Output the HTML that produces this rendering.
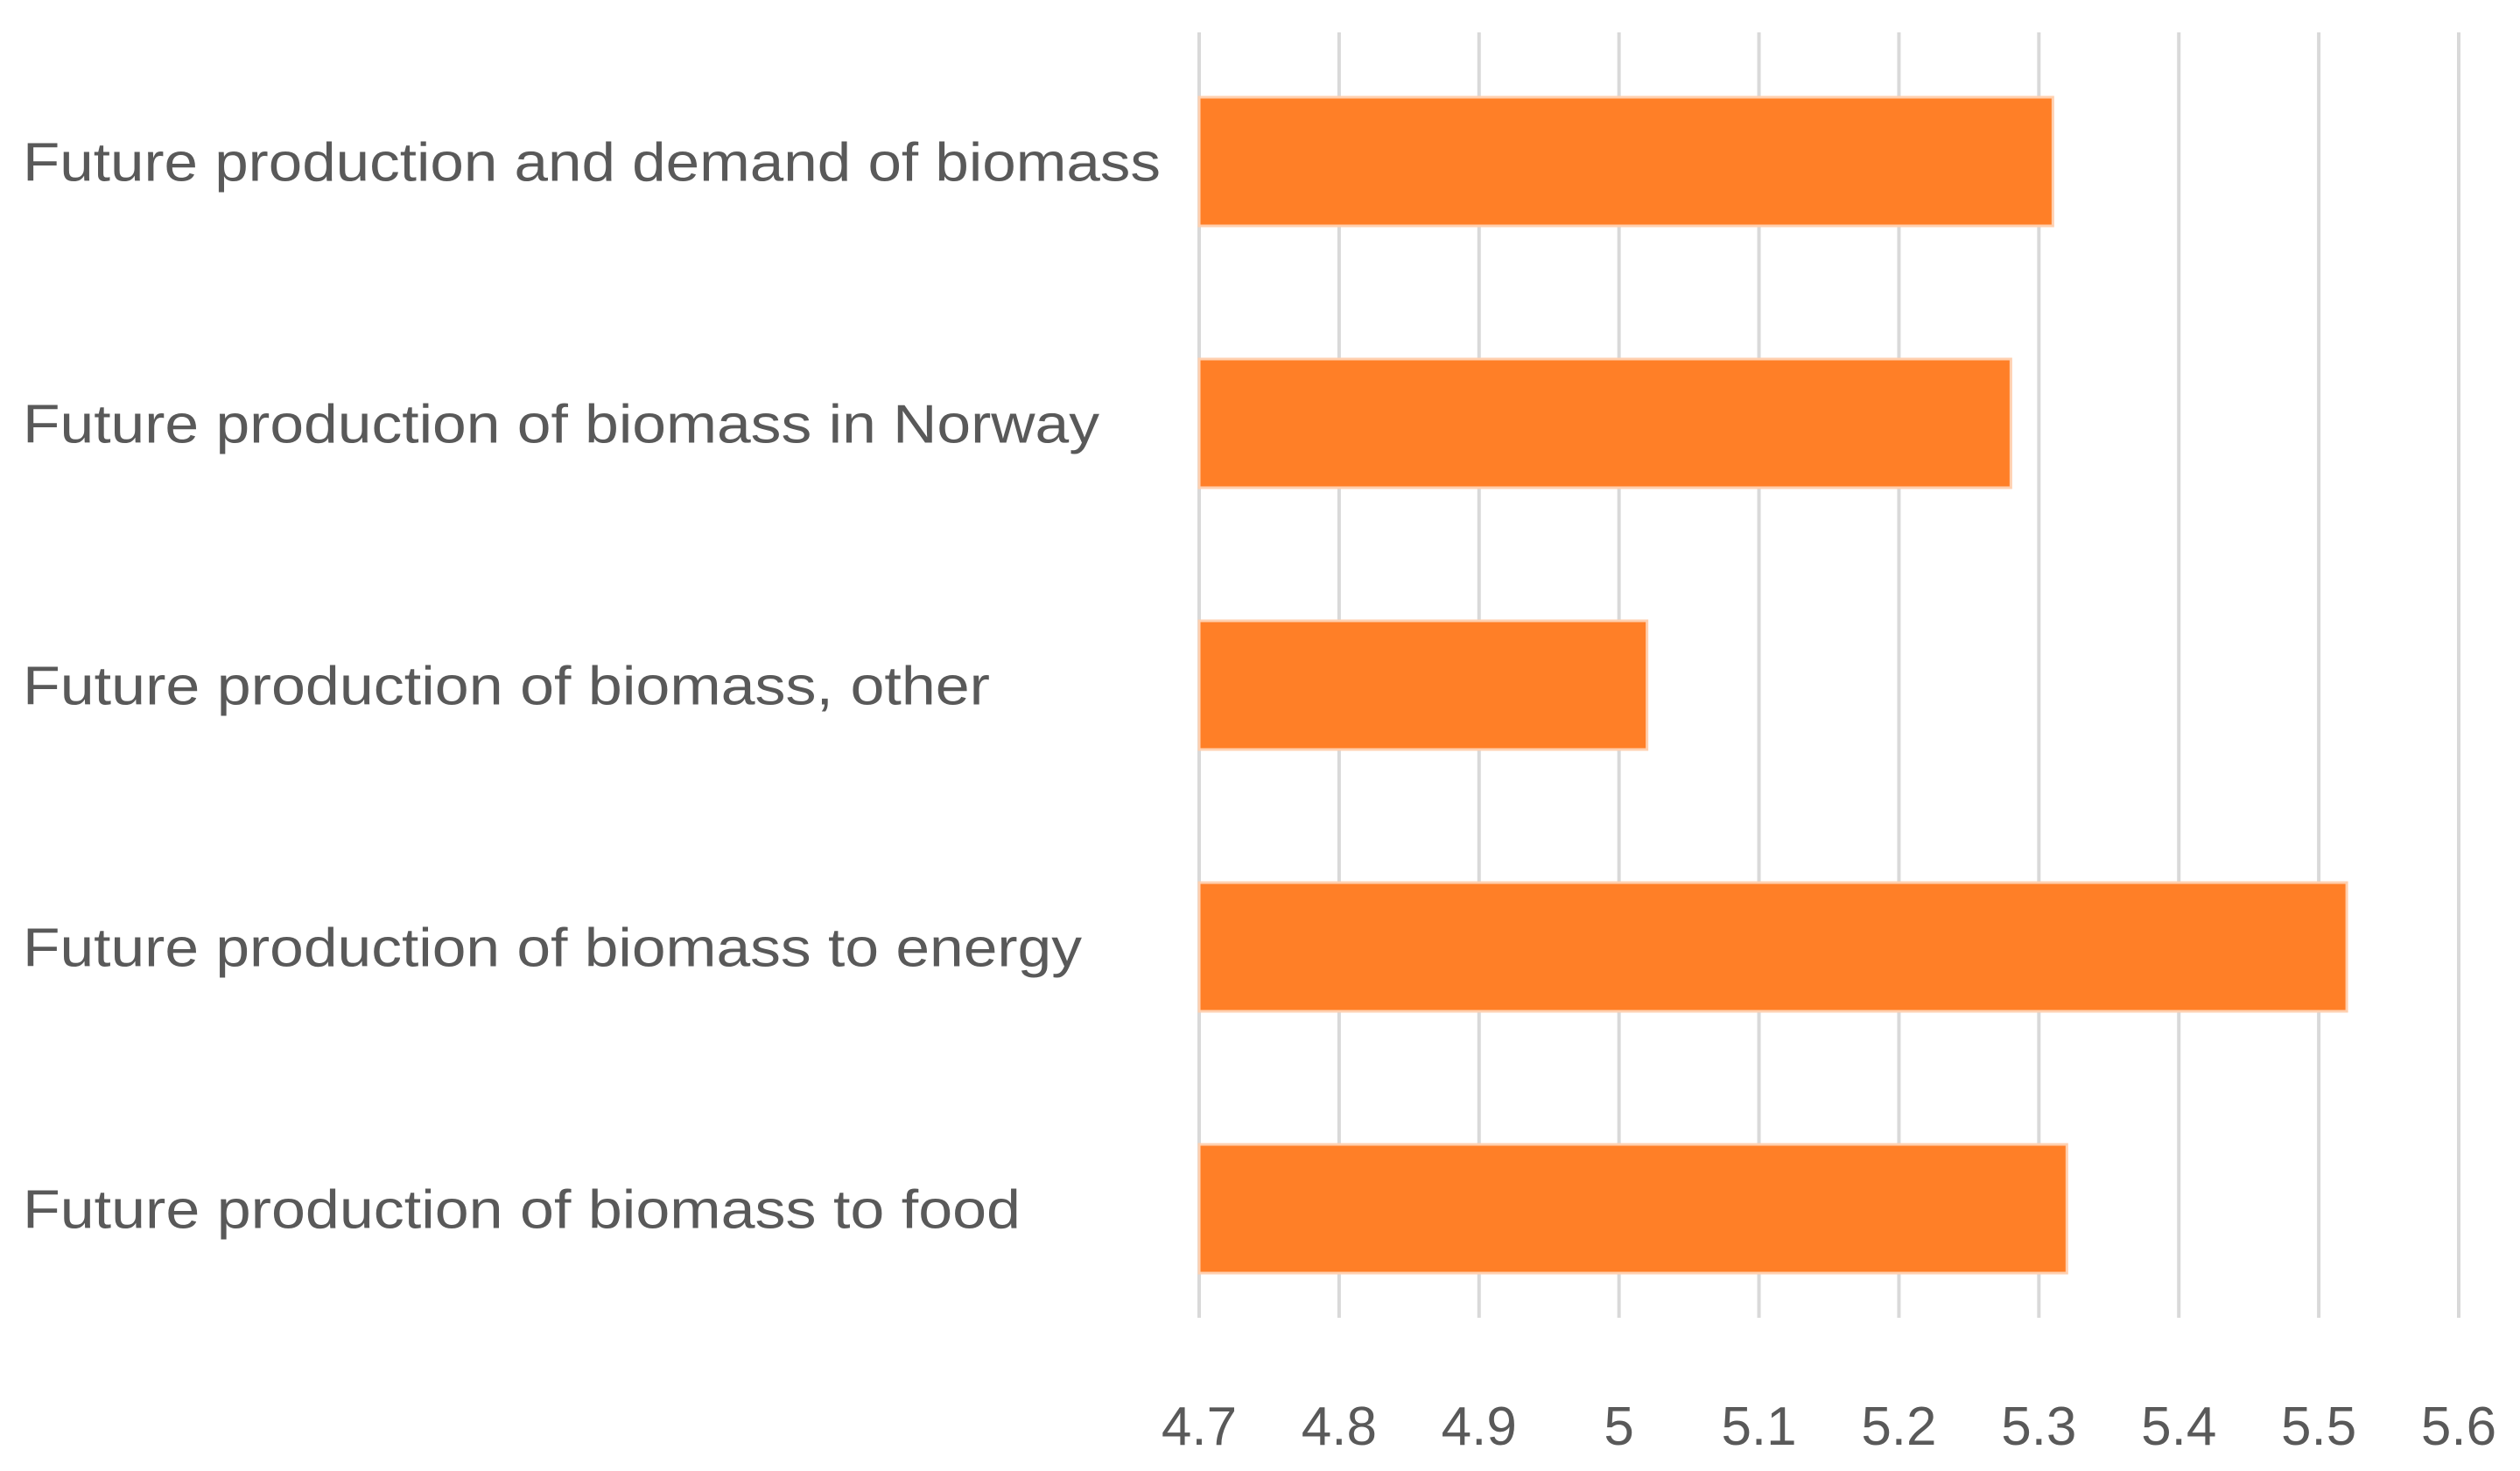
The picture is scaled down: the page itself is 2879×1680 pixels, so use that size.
<!DOCTYPE html>
<html><head><meta charset="utf-8"><style>
html,body{margin:0;padding:0;background:#fff;}
svg{display:block;}
text{font-family:"Liberation Sans",sans-serif;fill:#595959;}
</style></head><body>
<svg id="chart" width="2879" height="1680" viewBox="0 0 2879 1680" xmlns="http://www.w3.org/2000/svg">
<g id="grid"></g>
<g id="bars"></g>
<g id="ylabels"></g>
<g id="xlabels"></g>
</svg>
<script>
const categories = ["Future production and demand of biomass","Future production of biomass in Norway","Future production of biomass, other","Future production of biomass to energy","Future production of biomass to food"];
const values = [5.31, 5.28, 5.02, 5.52, 5.32];
const tickValues = [4.7, 4.8, 4.9, 5.0, 5.1, 5.2, 5.3, 5.4, 5.5, 5.6];
const tickLabels = ["4.7","4.8","4.9","5","5.1","5.2","5.3","5.4","5.5","5.6"];
const labelWidths = [1300, 1230, 1105, 1210, 1140];

const NS = "http://www.w3.org/2000/svg";
const xMin = 4.7, xMax = 5.6, x0 = 1370, x1 = 2809;
function xScale(v){ return x0 + (v - xMin) / (xMax - xMin) * (x1 - x0); }
const plotTop = 35, band = 299;
const gridTop = 37, gridBottom = 1505;
function yCenter(i){ return plotTop + band * (i + 0.5); }
const barH = 147;

const grid = document.getElementById('grid');
tickValues.forEach((t, i) => {
  const l = document.createElementNS(NS, 'line');
  l.setAttribute('x1', xScale(t)); l.setAttribute('x2', xScale(t));
  l.setAttribute('y1', gridTop); l.setAttribute('y2', gridBottom);
  l.setAttribute('stroke', '#d9d9d9'); l.setAttribute('stroke-width', '4');
  
  
  grid.appendChild(l);
  const tx = document.createElementNS(NS, 'text');
  tx.setAttribute('x', xScale(t)); tx.setAttribute('y', 1650);
  tx.setAttribute('text-anchor', 'middle'); tx.setAttribute('font-size', '62');
  tx.textContent = tickLabels[i];
  
  
  document.getElementById('xlabels').appendChild(tx);
});

const bars = document.getElementById('bars');
values.forEach((v, i) => {
  const r = document.createElementNS(NS, 'rect');
  r.setAttribute('x', xScale(xMin)); r.setAttribute('y', yCenter(i) - barH / 2);
  r.setAttribute('width', xScale(v) - xScale(xMin)); r.setAttribute('height', barH);
  r.setAttribute('fill', '#FF7F27'); r.setAttribute('stroke', '#FFD0B0'); r.setAttribute('stroke-width', '3');
  
  
  bars.appendChild(r);
  const t = document.createElementNS(NS, 'text');
  t.setAttribute('x', 26); t.setAttribute('y', yCenter(i) + 22);
  t.setAttribute('font-size', '62');
  t.setAttribute('textLength', labelWidths[i]); t.setAttribute('lengthAdjust', 'spacingAndGlyphs');
  t.textContent = categories[i];
  
  
  document.getElementById('ylabels').appendChild(t);
});
</script>
</body></html>
